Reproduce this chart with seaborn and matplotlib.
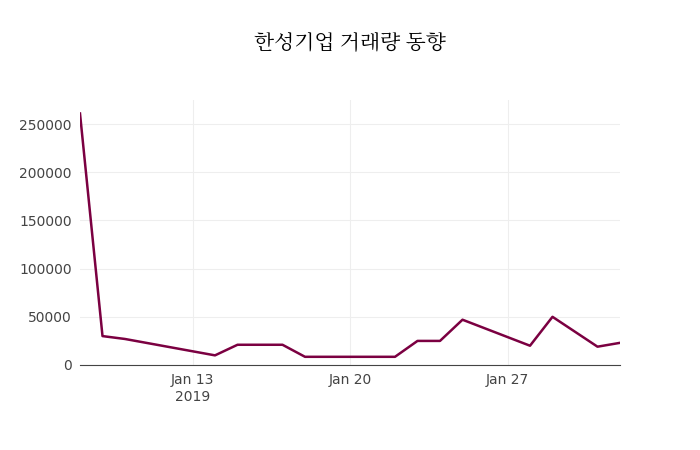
import matplotlib
matplotlib.use("Agg")
import matplotlib.pyplot as plt
from matplotlib import font_manager
import seaborn as sns
import pandas as pd

dates = ["2019-01-08", "2019-01-09", "2019-01-10", "2019-01-14", "2019-01-15",
         "2019-01-17", "2019-01-18", "2019-01-22", "2019-01-23", "2019-01-24",
         "2019-01-25", "2019-01-28", "2019-01-29", "2019-01-31", "2019-02-01"]
volume = [261000, 30000, 27000, 10000, 21000, 21000, 8500, 8500, 25000, 25000,
          47000, 20000, 50000, 19000, 23000]

df = pd.DataFrame({"date": pd.to_datetime(dates), "volume": volume})

# find a CJK font file for the Korean title
cjk = [f for f in font_manager.findSystemFonts() if "CJK" in f]
for f in cjk:
    font_manager.fontManager.addfont(f)
kr = [f for f in cjk if "KR" in f or "Regular" in f] or cjk
title_font = font_manager.FontProperties(fname=kr[0], size=15) if kr else None

fig = plt.figure(figsize=(7, 4.5), dpi=100)
ax = fig.add_axes([80/700, 85/450, 540/700, 265/450])
sns.lineplot(data=df, x="date", y="volume", color="#7b0041", linewidth=1.8, ax=ax)

ax.set_xlim(df["date"].min(), df["date"].max())
ax.set_ylim(0, 275000)
ax.set_yticks([0, 50000, 100000, 150000, 200000, 250000])
ax.set_yticklabels(["0", "50000", "100000", "150000", "200000", "250000"])
ticks = pd.to_datetime(["2019-01-13", "2019-01-20", "2019-01-27"])
ax.set_xticks(ticks)
ax.set_xticklabels(["Jan 13\n2019", "Jan 20", "Jan 27"])
ax.set_xlabel("")
ax.set_ylabel("")
ax.grid(True, color="#eeeeee", linewidth=0.8)
for s in ["top", "right", "left"]:
    ax.spines[s].set_visible(False)
ax.spines["bottom"].set_color("#444444")
ax.tick_params(length=0, labelsize=10, colors="#444444", pad=6)
if title_font is not None:
    fig.suptitle("한성기업 거래량 동향", y=0.93, fontproperties=title_font)
else:
    fig.suptitle("한성기업 거래량 동향", y=0.93, fontsize=15, family="Noto Sans CJK KR")
fig.savefig("out.png", dpi=100)
